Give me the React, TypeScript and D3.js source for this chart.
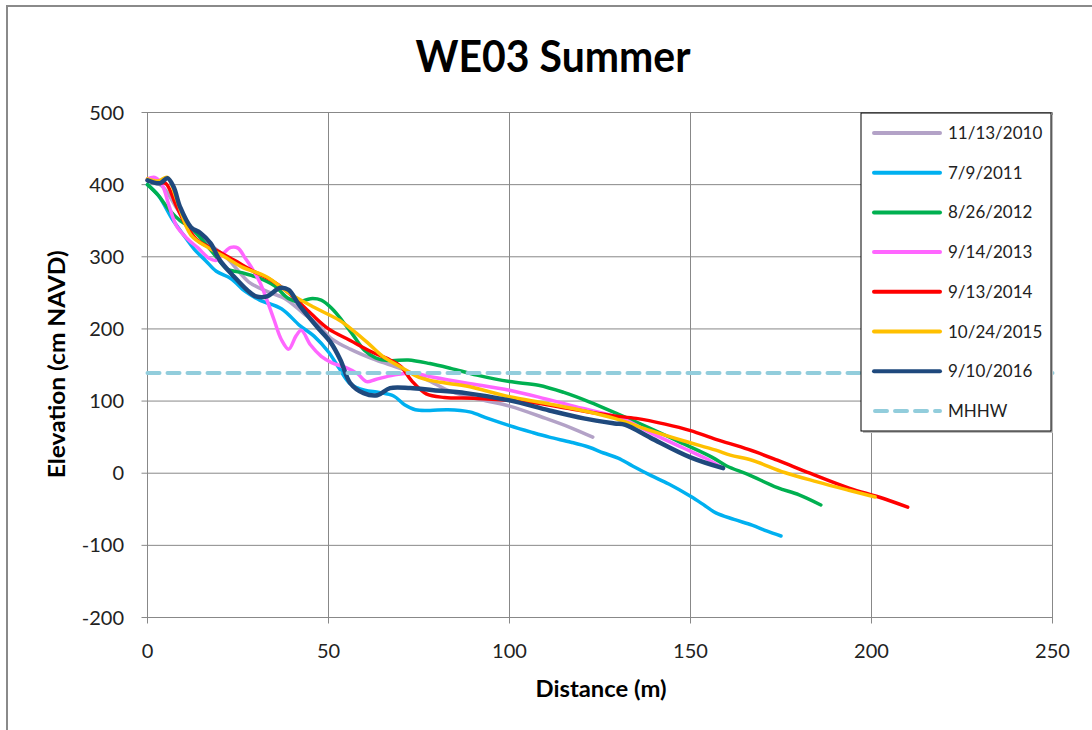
import React from "react";
import * as d3 from "d3";

// Beach profile surveys: distance along transect (m) vs elevation (cm NAVD)
const s2010: [number, number][] = [[0,406],[4,398],[8,368],[12,340],[17,318],[22,298],[28,265],[33,252],[38,242],[43,222],[47,206],[51,186],[56,172],[63,157],[70,145],[77,130],[84,113],[92,102],[100,93],[110,76],[117,63],[123,50]];
const s2011: [number, number][] = [[0,400],[3,385],[7,351],[10,330],[13,310],[16,295],[19,280],[23,270],[27,252],[31,240],[37,228],[42,205],[46,190],[50,168],[53,145],[56,124],[60,115],[64,112],[68,107],[71,95],[74,88],[78,87],[83,88],[89,85],[94,76],[100,66],[106,57],[111,50],[117,43],[122,36],[126,28],[130,21],[134,10],[139,-3],[144,-15],[150,-32],[154,-45],[157,-55],[162,-64],[167,-72],[171,-80],[175,-87]];
const s2012: [number, number][] = [[0,400],[3,385],[6,365],[9,350],[12,340],[16,318],[19,300],[22,283],[26,278],[30,272],[35,260],[39,242],[42,238],[45,242],[48,240],[51,228],[54,210],[57,190],[60,170],[63,160],[67,156],[72,157],[78,152],[84,145],[91,136],[100,127],[108,122],[115,112],[122,99],[130,82],[139,62],[148,41],[156,22],[160,10],[166,-2],[174,-20],[180,-30],[186,-44]];
const s2013: [number, number][] = [[0,408],[2,410],[4,400],[6,370],[8,343],[11,325],[14,312],[17,298],[19,295],[21,305],[23,313],[25,312],[27,298],[29,283],[31,265],[33,240],[35,212],[37,185],[39,172],[41,190],[42.5,198],[45,178],[48,162],[51,153],[55,146],[58,138],[60.5,127],[63,130],[68,136],[73,139],[79,133],[88,125],[100,115],[110,103],[120,90],[131,76],[139,56],[148,35],[154,21],[159,7]];
const s2014: [number, number][] = [[0,406],[3,402],[5,402],[8,370],[11,341],[14,322],[19,309],[24,295],[30,278],[34,268],[39,250],[45,222],[50,200],[56,184],[62,168],[67,157],[70,148],[73,128],[77,110],[82,105],[90,104],[100,101],[108,97],[116,90],[128,80],[135,76],[143,68],[150,59],[157,47],[166,33],[174,18],[183,0],[194,-21],[202,-33],[210,-47]];
const s2015: [number, number][] = [[0,408],[3,405],[5.5,410],[8,380],[12,330],[17,312],[22,298],[26,286],[33,272],[39,250],[46,230],[53,212],[57,197],[61,180],[65,162],[70,147],[75,133],[81,126],[88,121],[100,106],[110,97],[120,87],[129,76],[139,59],[148,45],[157,32],[161,25],[167,18],[176,1],[185,-12],[194,-24],[201,-33]];
const s2016: [number, number][] = [[0,406],[3.5,402],[5.5,409],[7.2,397],[9,369],[12,341],[14.6,333],[17.4,319],[20,295],[24,272],[27.5,254],[30,245],[33,245],[36.7,257],[39,254],[41.5,236],[43,226],[47,202],[50.5,182],[53.3,157],[56,125],[59.7,111],[63.5,108],[67,118],[72.6,118],[79,115],[88,111],[100,101],[111,87],[120.5,76],[129,69],[132,67],[139,49],[150,22],[159,7]];
const mhhw = 139;

const seriesNames = ["11/13/2010", "7/9/2011", "8/26/2012", "9/14/2013", "9/13/2014", "10/24/2015", "9/10/2016"];
const seriesData = [s2010, s2011, s2012, s2013, s2014, s2015, s2016];
const seriesColors = ["#B3A2C7", "#00B0F0", "#00B050", "#FF66FF", "#FF0000", "#FFC000", "#1F497D"];
const mhhwColor = "#92CDDC";

const xTicks = [0, 50, 100, 150, 200, 250];
const yTicks = [-200, -100, 0, 100, 200, 300, 400, 500];

const FONT = "Lato, 'Open Sans', sans-serif";

export default function App() {
  const W = 1092, H = 730;
  const x = d3.scaleLinear().domain([0, 250]).range([147.5, 1052.5]);
  const y = d3.scaleLinear().domain([-200, 500]).range([617.5, 112.5]);
  const line = d3.line<[number, number]>()
    .x((d) => x(d[0]))
    .y((d) => y(d[1]))
    .curve(d3.curveCatmullRom.alpha(0.5));

  const legX = 861, legY = 113, legW = 190, legH = 318;
  const rowY = (i: number) => 133 + i * 39.7;

  return (
    <svg width={W} height={H} style={{ position: "absolute", left: 0, top: 0, background: "#fff" }}>
      <rect x={0} y={0} width={W} height={H} fill="#fff" />
      {/* outer frame */}
      <line x1={6} y1={6} x2={W} y2={6} stroke="#8a8a8a" strokeWidth={2} />
      <line x1={7} y1={6} x2={7} y2={H} stroke="#8a8a8a" strokeWidth={2} />

      <text x={553} y={72} textAnchor="middle" fontFamily={FONT} fontWeight="bold" fontSize={43}
        textLength={275} lengthAdjust="spacingAndGlyphs" fill="#000">
        WE03 Summer
      </text>

      {/* gridlines */}
      {yTicks.map((t) => (
        <line key={"gy" + t} x1={x(0) - 6} x2={x(250)} y1={y(t)} y2={y(t)} stroke="#888" strokeWidth={1} />
      ))}
      {xTicks.map((t) => (
        <line key={"gx" + t} x1={x(t)} x2={x(t)} y1={y(500)} y2={y(-200) + 6} stroke="#888" strokeWidth={1} />
      ))}

      {/* tick labels */}
      {yTicks.map((t) => (
        <text key={"ly" + t} x={124} y={y(t) + 7} textAnchor="end" fontFamily={FONT} fontSize={20} fill="#222">
          {t}
        </text>
      ))}
      {xTicks.map((t) => (
        <text key={"lx" + t} x={x(t)} y={658} textAnchor="middle" fontFamily={FONT} fontSize={20} fill="#222">
          {t}
        </text>
      ))}

      <text x={601} y={697} textAnchor="middle" fontFamily={FONT} fontWeight="bold" fontSize={22}
        textLength={131} lengthAdjust="spacingAndGlyphs" fill="#000">
        Distance (m)
      </text>
      <text
        transform={`translate(65,${y(151)}) rotate(-90)`}
        textAnchor="middle"
        fontFamily={FONT}
        fontWeight="bold"
        fontSize={22}
        textLength={228}
        lengthAdjust="spacingAndGlyphs"
        fill="#000"
      >
        Elevation (cm NAVD)
      </text>

      {/* survey profiles */}
      {seriesData.map((d, i) => (
        <path
          key={seriesNames[i]}
          d={line(d) || ""}
          fill="none"
          stroke={seriesColors[i]}
          strokeWidth={i === 6 ? 4.5 : 3.5}
          strokeLinecap="round"
          strokeLinejoin="round"
        />
      ))}

      {/* mean higher high water */}
      <line
        x1={x(0)}
        x2={x(250)}
        y1={y(mhhw)}
        y2={y(mhhw)}
        stroke={mhhwColor}
        strokeWidth={4}
        strokeDasharray="12 8"
        strokeLinecap="round"
      />

      {/* legend */}
      <rect x={legX + 2} y={legY + 2} width={legW} height={legH} fill="#bbb" />
      <rect x={legX} y={legY} width={legW} height={legH} fill="#fff" stroke="#000" strokeWidth={1} />
      {seriesNames.map((n, i) => (
        <g key={"leg" + n}>
          <line x1={874} x2={940} y1={rowY(i)} y2={rowY(i)} stroke={seriesColors[i]} strokeWidth={4} strokeLinecap="round" />
          <text x={948} y={rowY(i) + 6} fontFamily={FONT} fontSize={17} fill="#222">{n}</text>
        </g>
      ))}
      <line x1={875} x2={940} y1={rowY(7)} y2={rowY(7)} stroke={mhhwColor} strokeWidth={4} strokeDasharray="12 8" strokeLinecap="round" />
      <text x={948} y={rowY(7) + 6} fontFamily={FONT} fontSize={17} fill="#222">MHHW</text>
    </svg>
  );
}
